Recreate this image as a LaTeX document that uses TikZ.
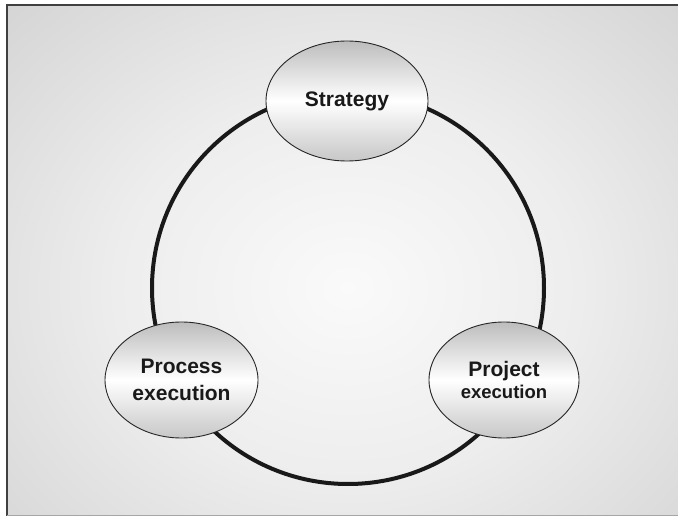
\documentclass[tikz,border=0pt]{standalone}
\usepackage{fontspec}
\setmainfont{Liberation Sans}
\usetikzlibrary{shapes.geometric}
\definecolor{bgin}{gray}{0.98}
\definecolor{bgnear}{gray}{0.93}
\definecolor{bgmid}{gray}{0.77}
\definecolor{bgout}{gray}{0.74}
\definecolor{inktext}{gray}{0.1}
\pgfdeclareradialshading{bgshade}{\pgfpoint{0bp}{0bp}}{color(0bp)=(bgin); color(12bp)=(bgnear); color(34bp)=(bgmid); color(50bp)=(bgout)}
\tikzset{
  bub/.style={ellipse, draw=black!85, line width=0.9pt,
    top color=black!26, bottom color=black!22, middle color=white,
    inner sep=0pt, align=center, text=inktext,
    font=\bfseries\fontsize{21}{27}\selectfont},
  ring/.style={line width=4pt, draw=black!90},
  framedark/.style={draw=black!75, line width=1.3pt},
  framelight/.style={draw=black!35, line width=1pt}
}
\begin{document}
\begin{tikzpicture}[x=1pt,y=-1pt]
\useasboundingbox (0,0) rectangle (678,516);
\begin{scope}
  \clip (7,5) rectangle (678,516);
  \shade[shading=bgshade] (348,288) ellipse (480pt and 400pt);
\end{scope}
\draw[framedark] (7,516) -- (7,5) -- (678,5);
\draw[framelight] (7,515.5) -- (678,515.5);
\coordinate (ctr) at (348,288);
\draw[ring] (ctr) circle[radius=196pt];
\node[bub, minimum width=162pt, minimum height=120pt] (strat) at (347,101) {Strategy};
\node[bub, minimum width=153pt, minimum height=116pt] (proc) at (181.5,380) {Process\\execution};
\node[bub, minimum width=150pt, minimum height=116pt, font=\bfseries\fontsize{21}{21.5}\selectfont] (proj) at (504,380) {Project\\{\fontsize{18.5}{21.5}\selectfont execution}};
\end{tikzpicture}
\end{document}
